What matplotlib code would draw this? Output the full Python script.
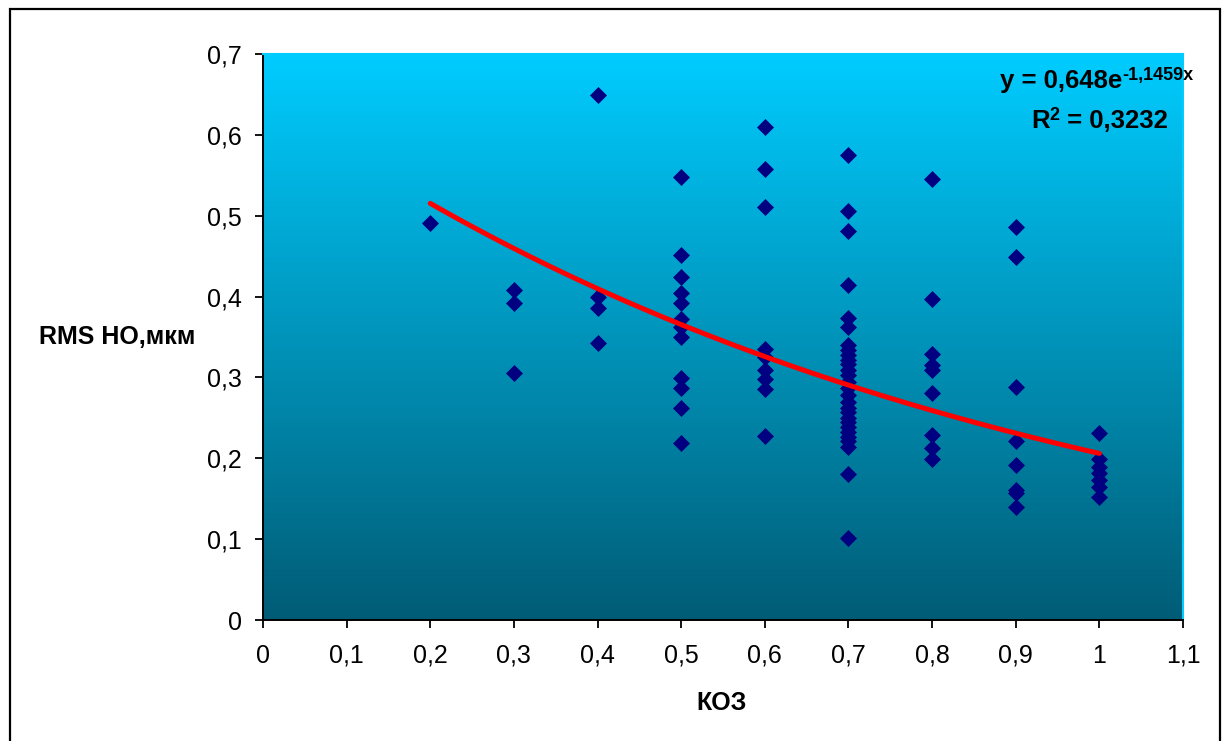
import numpy as np
import matplotlib.pyplot as plt
from matplotlib.patches import Rectangle

# --- CONFIGURATION ---
W, H = 1224, 741
OUTPUT_FILE = "out.png"

# data: RMS HO (um) at each KOZ level
koz_levels = [0.2, 0.3, 0.4, 0.5, 0.6, 0.7, 0.8, 0.9, 1.0]
rms_02 = [0.491]
rms_03 = [0.408, 0.392, 0.305]
rms_04 = [0.649, 0.400, 0.386, 0.343]
rms_05 = [0.548, 0.451, 0.424, 0.404, 0.392, 0.372, 0.362, 0.350, 0.299, 0.287, 0.262, 0.219]
rms_06 = [0.610, 0.558, 0.511, 0.335, 0.325, 0.309, 0.298, 0.286, 0.228]
rms_07 = [0.575, 0.506, 0.481, 0.414, 0.373, 0.362, 0.340, 0.334, 0.328, 0.322, 0.316,
          0.309, 0.303, 0.294, 0.287, 0.278, 0.270, 0.262, 0.257, 0.250, 0.245, 0.239,
          0.233, 0.226, 0.221, 0.214, 0.181, 0.101]
rms_08 = [0.545, 0.397, 0.329, 0.315, 0.309, 0.281, 0.229, 0.213, 0.199]
rms_09 = [0.486, 0.449, 0.288, 0.221, 0.192, 0.161, 0.157, 0.140]
rms_10 = [0.231, 0.199, 0.189, 0.182, 0.173, 0.164, 0.152]

# exponential trendline shown on the chart
fit_a = 0.648
fit_b = -1.1459
fit_r2 = 0.3232

x_ticks = [0, 0.1, 0.2, 0.3, 0.4, 0.5, 0.6, 0.7, 0.8, 0.9, 1.0, 1.1]
x_tick_labels = ['0', '0,1', '0,2', '0,3', '0,4', '0,5', '0,6', '0,7', '0,8', '0,9', '1', '1,1']
y_ticks = [0, 0.1, 0.2, 0.3, 0.4, 0.5, 0.6, 0.7]
y_tick_labels = ['0', '0,1', '0,2', '0,3', '0,4', '0,5', '0,6', '0,7']

plt.rcParams['font.family'] = ['Liberation Sans', 'DejaVu Sans']

fig = plt.figure(figsize=(W / 100, H / 100), dpi=100)
ax = fig.add_axes([263 / W, (H - 620) / H, 920 / W, 566 / H])

# gradient plot area: light cyan at top to dark teal at bottom
top = np.array([0, 204, 255]) / 255
bottom = np.array([0, 92, 118]) / 255
t = np.linspace(0, 1, 256)[:, None]
grad = (top * (1 - t) + bottom * t)[:, None, :]
ax.imshow(grad, extent=[0, 1.1, 0, 0.7], aspect='auto', origin='upper', zorder=0)

# scatter points
columns = [rms_02, rms_03, rms_04, rms_05, rms_06, rms_07, rms_08, rms_09, rms_10]
xs, ys = [], []
for k, vals in zip(koz_levels, columns):
    xs += [k] * len(vals)
    ys += vals
ax.plot(xs, ys, linestyle='none', marker='D', markersize=8.2,
        color='#000080', markeredgecolor='#000080', markeredgewidth=0.5, zorder=2)

# trendline
xf = np.linspace(min(koz_levels), max(koz_levels), 200)
ax.plot(xf, fit_a * np.exp(fit_b * xf), color='#FF0000', linewidth=3.6,
        solid_capstyle='round', zorder=3)

ax.set_xlim(0, 1.1)
ax.set_ylim(0, 0.7)
ax.set_xticks(x_ticks)
ax.set_xticklabels(x_tick_labels)
ax.set_yticks(y_ticks)
ax.set_yticklabels(y_tick_labels)
ax.tick_params(axis='both', direction='out', length=6, width=1.3, labelsize=18, color='black')
ax.tick_params(axis='y', pad=9)
ax.tick_params(axis='x', pad=11)

for side in ['left', 'bottom']:
    ax.spines[side].set_color('black')
    ax.spines[side].set_linewidth(1.4)
for side in ['top', 'right']:
    ax.spines[side].set_color('#00CCFF')
    ax.spines[side].set_linewidth(1.5)

# axis titles (Excel style, horizontal)
fig.text(117 / W, 1 - 337 / H, 'RMS HO,мкм', ha='center', va='center',
         fontsize=18, fontweight='bold')
fig.text(722 / W, 1 - 703 / H, 'КОЗ', ha='center', va='center',
         fontsize=18, fontweight='bold')

# trendline equation, built from pieces so the superscripts sit like Excel's
exp_label = '%s' % fit_b
exp_label = exp_label.replace('.', ',') + 'x'
t_eq = fig.text(1000 / W, 1 - 88 / H, 'y = ' + str(fit_a).replace('.', ',') + 'e',
                ha='left', va='baseline', fontsize=18.5, fontweight='bold')
ax.annotate(exp_label, xy=(1, 0.36), xycoords=t_eq, ha='left', va='bottom',
            fontsize=13, fontweight='bold', annotation_clip=False)

t_r = fig.text(1031 / W, 1 - 128 / H, 'R', ha='left', va='baseline',
               fontsize=18.5, fontweight='bold')
t_2 = ax.annotate('2', xy=(1, 0.38), xycoords=t_r, ha='left', va='bottom',
                  fontsize=13, fontweight='bold', annotation_clip=False)
ax.annotate(' = ' + str(fit_r2).replace('.', ','), xy=(1, 0), xycoords=(t_2, t_r),
            ha='left', va='bottom', fontsize=18.5, fontweight='bold',
            annotation_clip=False)

# outer chart border
fig.add_artist(Rectangle((10 / W, -0.02), 1210 / W, 1.02 - 9 / H,
                         transform=fig.transFigure, fill=False,
                         edgecolor='black', linewidth=1.6))

fig.savefig(OUTPUT_FILE, dpi=100)
